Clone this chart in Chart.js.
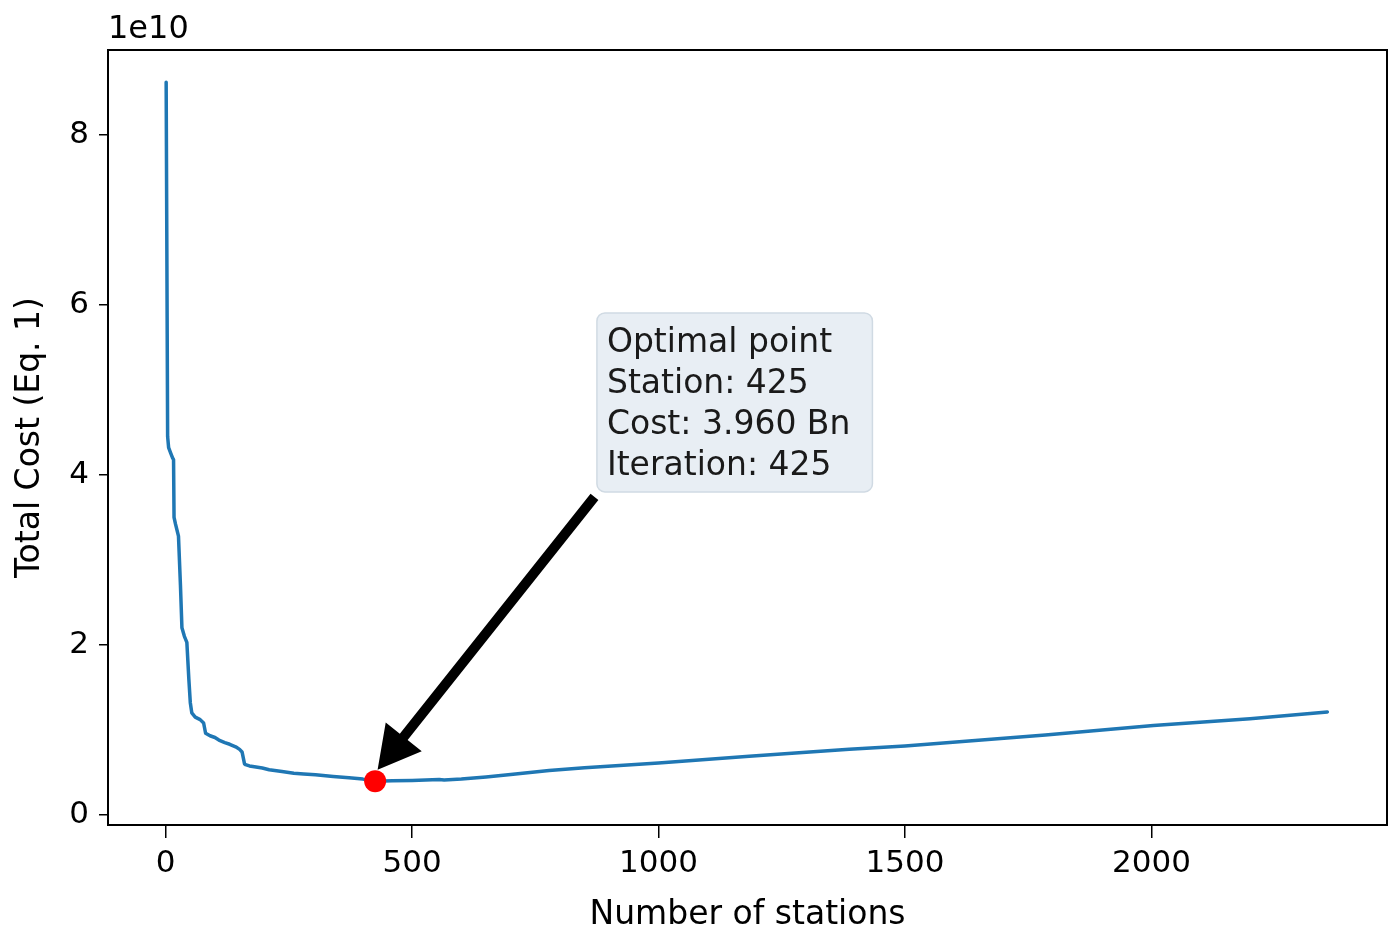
<!DOCTYPE html>
<html><head><meta charset="utf-8">
<style>html,body{margin:0;padding:0;background:#fff;}#wrap{width:1393px;height:933px;position:relative;}canvas{display:block;}</style>
<script src="https://cdn.jsdelivr.net/npm/chart.js@4.4.1/dist/chart.umd.min.js"></script>
</head><body><div id="wrap"><canvas id="c" width="1393" height="933" style="width:1393px;height:933px"></canvas></div>
<script>
// Number of stations (x) and total cost in units of 1e10 (y)
const stations = [1, 4, 6, 10, 14, 16, 17, 20, 26, 30, 33, 38, 43, 47, 50, 53, 60, 70, 77, 81, 90, 100, 108, 120, 130, 142, 150, 155, 160, 162, 170, 180, 196, 210, 236, 260, 280, 304, 340, 372, 400, 425, 460, 500, 555, 565, 600, 650, 700, 778, 850, 1000, 1184, 1285, 1387, 1500, 1785, 2004, 2200, 2357];
const costs    = [8.62, 4.45, 4.32, 4.26, 4.2, 4.18, 3.5, 3.42, 3.28, 2.7, 2.2, 2.1, 2.03, 1.6, 1.32, 1.2, 1.15, 1.12, 1.08, 0.96, 0.93, 0.91, 0.88, 0.85, 0.83, 0.8, 0.77, 0.74, 0.6, 0.59, 0.575, 0.565, 0.55, 0.53, 0.51, 0.49, 0.48, 0.47, 0.45, 0.435, 0.42, 0.396, 0.40, 0.405, 0.415, 0.41, 0.42, 0.445, 0.475, 0.52, 0.555, 0.61, 0.69, 0.73, 0.77, 0.81, 0.94, 1.05, 1.13, 1.21];
const optimalStation = [425];
const optimalCost = [0.396];
const xTicks = [0, 500, 1000, 1500, 2000];
const yTicks = [0, 2, 4, 6, 8];
const xTitle = 'Number of stations';
const yTitle = 'Total Cost (Eq. 1)';
const offsetLabel = '1e10';
const annotationLines = ['Optimal point', 'Station: 425', 'Cost: 3.960 Bn', 'Iteration: 425'];
const boxTopLeft = {x: 875, y: 5.906};
const arrowFrom = {x: 870, y: 3.74};
const arrowTo = {x: 430, y: 0.53};

const FONT = '"DejaVu Sans", sans-serif';

const overlay = {
  id: 'overlay',
  afterDatasetsDraw(chart) {
    const {ctx, chartArea: a, scales: {x, y}} = chart;
    ctx.save();
    // frame
    ctx.strokeStyle = '#000'; ctx.lineWidth = 2;
    ctx.strokeRect(a.left, a.top, a.right - a.left, a.bottom - a.top);
    // offset text
    ctx.fillStyle = '#000';
    ctx.font = '32px ' + FONT;
    ctx.textAlign = 'left'; ctx.textBaseline = 'alphabetic';
    ctx.fillText(offsetLabel, a.left, a.top - 12);
    // arrow
    const sx = x.getPixelForValue(arrowFrom.x), sy = y.getPixelForValue(arrowFrom.y);
    const tx = x.getPixelForValue(arrowTo.x), ty = y.getPixelForValue(arrowTo.y);
    const dx = tx - sx, dy = ty - sy, L = Math.hypot(dx, dy);
    const ux = dx / L, uy = dy / L, px = -uy, py = ux;
    const headLen = 42, headW = 23, shaftW = 5;
    const bx = tx - ux * headLen, by = ty - uy * headLen;
    ctx.fillStyle = '#000';
    ctx.beginPath();
    ctx.moveTo(sx + px * shaftW, sy + py * shaftW);
    ctx.lineTo(bx + px * shaftW, by + py * shaftW);
    ctx.lineTo(bx + px * headW, by + py * headW);
    ctx.lineTo(tx, ty);
    ctx.lineTo(bx - px * headW, by - py * headW);
    ctx.lineTo(bx - px * shaftW, by - py * shaftW);
    ctx.lineTo(sx - px * shaftW, sy - py * shaftW);
    ctx.closePath();
    ctx.fill();
    // box
    ctx.font = '33px ' + FONT;
    let w = 0;
    annotationLines.forEach(t => { w = Math.max(w, ctx.measureText(t).width); });
    const lx = x.getPixelForValue(boxTopLeft.x), ly = y.getPixelForValue(boxTopLeft.y);
    const lineH = 41, padL = 10, padR = 22;
    const bw = w + padL + padR, bh = lineH * annotationLines.length + 15;
    const r = 8;
    ctx.beginPath();
    ctx.moveTo(lx + r, ly);
    ctx.arcTo(lx + bw, ly, lx + bw, ly + bh, r);
    ctx.arcTo(lx + bw, ly + bh, lx, ly + bh, r);
    ctx.arcTo(lx, ly + bh, lx, ly, r);
    ctx.arcTo(lx, ly, lx + bw, ly, r);
    ctx.closePath();
    ctx.fillStyle = '#e8eef4';
    ctx.fill();
    ctx.strokeStyle = '#d0dae3'; ctx.lineWidth = 1.5;
    ctx.stroke();
    ctx.fillStyle = '#1a1a1a';
    ctx.textBaseline = 'alphabetic';
    annotationLines.forEach((t, i) => ctx.fillText(t, lx + padL, ly + 39 + i * lineH));
    ctx.restore();
  }
};

const lineData = stations.map((s, i) => ({x: s, y: costs[i]}));
const dotData = optimalStation.map((s, i) => ({x: s, y: optimalCost[i]}));

new Chart(document.getElementById('c'), {
  type: 'scatter',
  data: {
    datasets: [
      {data: lineData, showLine: true, borderColor: '#1f77b4', borderWidth: 3.5, pointRadius: 0, tension: 0, order: 1, borderJoinStyle: 'round', borderCapStyle: 'round'},
      {data: dotData, pointRadius: 11, backgroundColor: '#ff0000', borderWidth: 0, order: 0}
    ]
  },
  options: {
    responsive: false,
    maintainAspectRatio: false,
    animation: false,
    devicePixelRatio: 1,
    layout: {autoPadding: false, padding: {top: 50, right: 6, left: 0, bottom: 0}},
    plugins: {legend: {display: false}, tooltip: {enabled: false}},
    scales: {
      x: {
        type: 'linear', min: -117, max: 2478,
        afterBuildTicks: s => { s.ticks = xTicks.map(v => ({value: v})); },
        afterFit: s => { s.height = 108; s.paddingLeft = 0; s.paddingRight = 0; },
        ticks: {font: {family: FONT, size: 31}, color: '#000', padding: 7, maxRotation: 0, callback: v => String(v)},
        grid: {display: true, drawOnChartArea: false, drawTicks: true, tickLength: 13, color: '#000', lineWidth: 1.5},
        border: {display: true, color: '#000', width: 2},
        title: {display: true, text: xTitle, font: {family: FONT, size: 33}, color: '#000', padding: {top: 0, bottom: -2}}
      },
      y: {
        type: 'linear', min: -0.12, max: 9.0,
        afterBuildTicks: s => { s.ticks = yTicks.map(v => ({value: v})); },
        afterFit: s => { s.width = 108; s.paddingTop = 0; s.paddingBottom = 0; },
        ticks: {font: {family: FONT, size: 31}, color: '#000', padding: 10, callback: v => String(v)},
        grid: {display: true, drawOnChartArea: false, drawTicks: true, tickLength: 9, color: '#000', lineWidth: 1.5},
        border: {display: true, color: '#000', width: 2},
        title: {display: true, text: yTitle, font: {family: FONT, size: 33}, color: '#000', padding: {top: 11, bottom: 0}}
      }
    }
  },
  plugins: [overlay]
});
</script>
</body></html>
